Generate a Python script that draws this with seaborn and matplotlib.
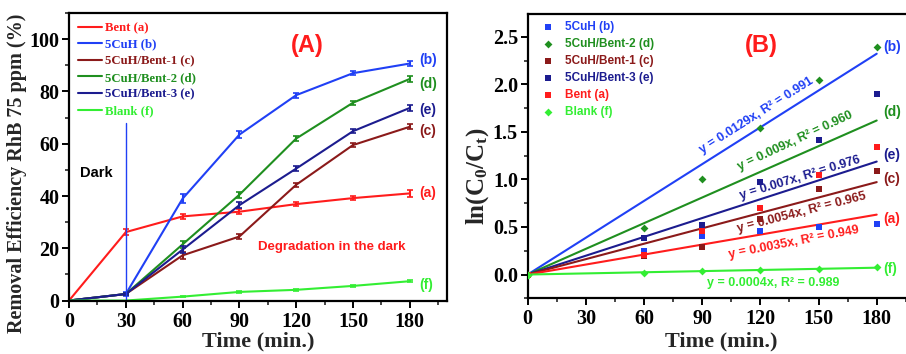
import numpy as np
import pandas as pd
import matplotlib
matplotlib.use("Agg")
import matplotlib.pyplot as plt
from matplotlib.ticker import MultipleLocator
import seaborn as sns

# --- Panel A: removal efficiency (%) vs time ---
time_a = [0, 30, 60, 90, 120, 150, 180]
bent_a = [0, 26.2, 32.2, 34.0, 36.9, 39.2, 41.0]
cuh_b = [0, 2.5, 39.0, 63.5, 78.6, 87.0, 90.7]
cuh_bent1_c = [0, 2.5, 17.3, 24.5, 44.3, 59.5, 66.5]
cuh_bent2_d = [0, 2.5, 21.5, 40.5, 62.0, 75.7, 84.8]
cuh_bent3_e = [0, 2.5, 19.5, 36.5, 50.5, 64.8, 73.7]
blank_f = [0, 0, 1.5, 3.3, 4.1, 5.6, 7.4]

err_a = [0, 1.3, 1.0, 0.9, 0.7, 0.8, 1.2]
err_b = [0, 0.6, 1.8, 1.4, 0.9, 0.8, 0.9]
err_c = [0, 0.5, 1.3, 1.0, 0.8, 0.6, 0.9]
err_d = [0, 0.5, 1.4, 1.1, 0.8, 0.7, 1.1]
err_e = [0, 0.5, 1.2, 1.1, 1.0, 0.8, 1.0]
err_f = [0, 0, 0.3, 0.3, 0.3, 0.3, 0.4]

# --- Panel B: ln(C0/Ct) vs time ---
time_b = [0, 60, 90, 120, 150, 180]
ln_b = [0, 0.245, 0.41, 0.46, 0.50, 0.535]
ln_d = [0, 0.49, 1.00, 1.54, 2.05, 2.39]
ln_c = [0, 0.19, 0.29, 0.58, 0.90, 1.09]
ln_e = [0, 0.385, 0.525, 0.97, 1.41, 1.90]
ln_a = [0, 0.21, 0.455, 0.70, 1.05, 1.34]
ln_f = [0, 0.02, 0.035, 0.045, 0.06, 0.08]
# fitted slopes (k) as printed on the chart, order b d e c a f
fit_slopes = [0.0129, 0.009, 0.0066, 0.0054, 0.0035, 0.0004]
fit_r2 = ["0.991", "0.960", "0.976", "0.965", "0.949", "0.989"]
fit_text_k = ["0.0129", "0.009", "0.007", "0.0054", "0.0035", "0.0004"]

# colours
RED = "#ff1c1c"
BLUE = "#2040f5"
DKRED = "#8b1a1a"
GREEN = "#1f8f1f"
NAVY = "#1c1c8f"
LIME = "#33ee33"

sns.set_theme(style="ticks")
plt.rcParams["font.family"] = ["Liberation Serif", "DejaVu Serif"]
plt.rcParams["font.weight"] = "bold"
plt.rcParams["axes.labelweight"] = "bold"
plt.rcParams["mathtext.fontset"] = "custom"
plt.rcParams["mathtext.rm"] = "Liberation Serif:bold"
plt.rcParams["mathtext.it"] = "Liberation Serif:bold"
plt.rcParams["mathtext.bf"] = "Liberation Serif:bold"

SANS = ["Liberation Sans", "DejaVu Sans"]

fig = plt.figure(figsize=(9.06, 3.54), dpi=100)
axA = fig.add_axes([0.0762, 0.151, 0.4168, 0.812])
axB = fig.add_axes([0.5824, 0.1573, 0.4270, 0.8032])


def style_axes(ax):
    for sp in ax.spines.values():
        sp.set_linewidth(1.6)
        sp.set_color("black")
    ax.tick_params(which="major", direction="out", length=5, width=1.4,
                   labelsize=14.5, colors="black", top=False, right=False, pad=2)
    ax.tick_params(axis="x", which="major", pad=3)
    ax.tick_params(which="minor", direction="out", length=3, width=1.2,
                   top=False, right=False)
    for lab in ax.get_xticklabels() + ax.get_yticklabels():
        lab.set_fontweight("bold")


# ---------------- Panel A ----------------
series_a = [
    ("Bent (a)", bent_a, err_a, RED),
    ("5CuH (b)", cuh_b, err_b, BLUE),
    ("5CuH/Bent-1 (c)", cuh_bent1_c, err_c, DKRED),
    ("5CuH/Bent-2 (d)", cuh_bent2_d, err_d, GREEN),
    ("5CuH/Bent-3 (e)", cuh_bent3_e, err_e, NAVY),
    ("Blank (f)", blank_f, err_f, LIME),
]
for name, vals, errs, col in series_a:
    sns.lineplot(x=time_a, y=vals, color=col, lw=1.5, label=name, ax=axA)
    axA.errorbar(time_a, vals, yerr=errs, fmt="none", ecolor=col,
                 elinewidth=1.5, capsize=2.5, capthick=1.2)

dark_time = 30
dark_line_top = 68
axA.plot([dark_time, dark_time], [0, dark_line_top], color=BLUE, lw=1.0)

axA.set_xlim(0, 199.5)
axA.set_ylim(0, 110)
axA.xaxis.set_major_locator(MultipleLocator(30))
axA.xaxis.set_minor_locator(MultipleLocator(15))
axA.yaxis.set_major_locator(MultipleLocator(20))
axA.yaxis.set_minor_locator(MultipleLocator(10))
axA.set_xlabel("Time (min.)", fontsize=16, fontweight="bold")
axA.set_ylabel("Removal Efficiency RhB 75 ppm (%)", fontsize=14.5,
               fontweight="bold")
axA.xaxis.set_label_coords(0.5, -0.107)
axA.yaxis.set_label_coords(-0.11, 0.444)
style_axes(axA)

legA = axA.legend(loc="upper left", bbox_to_anchor=(0.0, 1.0), frameon=False,
                  fontsize=9.2, handlelength=1.9, handletextpad=0.25,
                  labelspacing=0.36, borderpad=0.5, borderaxespad=0.2)
for txt, (_, _, _, col) in zip(legA.get_texts(), series_a):
    txt.set_color(col)
    txt.set_fontweight("bold")

axA.text(126, 97.5, "(A)", color=RED, fontsize=17, fontweight="bold",
         family=SANS, ha="center", va="center")
axA.text(6, 49, "Dark", color="black", fontsize=10.5, fontweight="bold",
         family=SANS, ha="left", va="center")
axA.text(139, 20.5, "Degradation in the dark", color=RED, fontsize=9.5,
         fontweight="bold", family=SANS, ha="center", va="center")
labels_a = [("(b)", 92, BLUE), ("(d)", 83, GREEN), ("(e)", 73, NAVY),
            ("(c)", 65, DKRED), ("(a)", 41.3, RED), ("(f)", 6, LIME)]
for lab, yv, col in labels_a:
    axA.text(185, yv, lab, color=col, fontsize=10, fontweight="bold",
             family=SANS, ha="left", va="center")

# ---------------- Panel B ----------------
series_b = [
    ("5CuH (b)", ln_b, BLUE, "s"),
    ("5CuH/Bent-2 (d)", ln_d, GREEN, "D"),
    ("5CuH/Bent-1 (c)", ln_c, DKRED, "s"),
    ("5CuH/Bent-3 (e)", ln_e, NAVY, "s"),
    ("Bent (a)", ln_a, RED, "s"),
    ("Blank (f)", ln_f, LIME, "D"),
]
fit_colors = [BLUE, GREEN, NAVY, DKRED, RED, LIME]
x_fit = np.array([0, 180])
for k, col in zip(fit_slopes, fit_colors):
    sns.lineplot(x=x_fit, y=k * x_fit, color=col, lw=1.5, ax=axB)

for name, vals, col, mk in series_b:
    sns.scatterplot(x=time_b, y=vals, color=col, marker=mk,
                    s=18 if mk == "s" else 16, edgecolor=col, linewidth=0,
                    label=name, ax=axB, zorder=3)

axB.set_xlim(0, 199.5)
axB.set_ylim(-0.25, 2.74)
axB.xaxis.set_major_locator(MultipleLocator(30))
axB.xaxis.set_minor_locator(MultipleLocator(15))
axB.yaxis.set_major_locator(MultipleLocator(0.5))
axB.yaxis.set_minor_locator(MultipleLocator(0.25))
axB.yaxis.set_major_formatter(plt.FormatStrFormatter("%.1f"))
axB.set_xlabel("Time (min.)", fontsize=16, fontweight="bold")
axB.set_ylabel("ln(C$_0$/C$_t$)", fontsize=18, fontweight="bold")
axB.xaxis.set_label_coords(0.5, -0.117)
axB.yaxis.set_label_coords(-0.095, 0.43)
style_axes(axB)

legB = axB.legend(loc="upper left", bbox_to_anchor=(0.02, 1.0), frameon=False,
                  prop={"family": SANS, "weight": "bold", "size": 8.5},
                  handlelength=1.0, handletextpad=0.9, labelspacing=0.42,
                  borderpad=0.4, borderaxespad=0.2)
for txt, (_, _, col, _) in zip(legB.get_texts(), series_b):
    txt.set_color(col)

# fit equations along the lines: (x, y, angle)
eq_pos = [(118, 1.67, 32.4), (138, 1.40, 25), (140.4, 1.02, 17),
          (141.5, 0.65, 14.5), (137.4, 0.34, 11), (126.6, -0.087, 0)]
for (xp, yp, ang), k, r2, col in zip(eq_pos, fit_text_k, fit_r2, fit_colors):
    axB.text(xp, yp, f"y = {k}x, R² = {r2}", color=col, fontsize=9,
             fontweight="bold", family=SANS, rotation=ang,
             rotation_mode="anchor", ha="center", va="center")

axB.text(120.7, 2.41, "(B)", color=RED, fontsize=17, fontweight="bold",
         family=SANS, ha="center", va="center")
labels_b = [("(b)", 2.39, BLUE), ("(d)", 1.71, GREEN), ("(e)", 1.26, NAVY),
            ("(c)", 1.00, DKRED), ("(a)", 0.58, RED), ("(f)", 0.06, LIME)]
for lab, yv, col in labels_b:
    axB.text(183.5, yv, lab, color=col, fontsize=10, fontweight="bold",
             family=SANS, ha="left", va="center")

fig.savefig("out.png", dpi=100)
